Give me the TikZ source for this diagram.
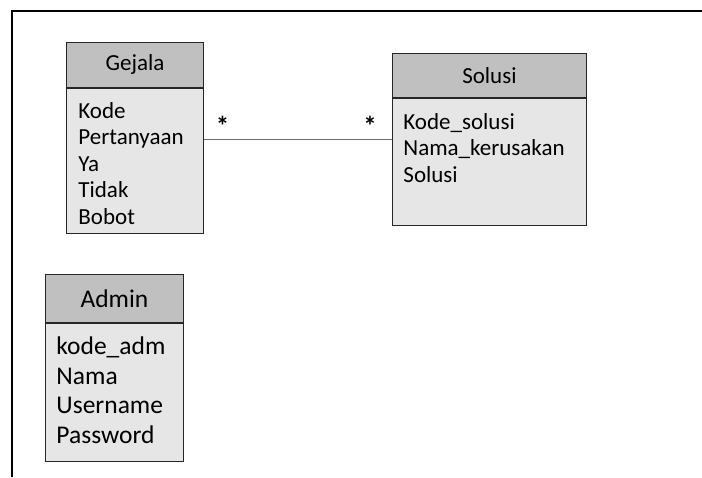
\documentclass[tikz,border=0pt]{standalone}
\usepackage{fontspec}
\setmainfont{Carlito}
\usepackage{tikz}
\usetikzlibrary{positioning,calc}
\definecolor{clsborder}{HTML}{262626}
\definecolor{clshead}{HTML}{C0C0C0}
\definecolor{clsbody}{HTML}{E6E6E6}
\definecolor{clsline}{HTML}{6E6E6E}
\tikzset{
  classhead/.style={
    draw=clsborder, fill=clshead, line width=0.9pt,
    minimum width=#1, minimum height=45pt,
    align=center, inner sep=0pt,
    font=\fontsize{23}{26.5}\selectfont
  },
  classattr/.style={
    draw=clsborder, fill=clsbody, line width=0.9pt,
    minimum width=#1, text width=#1-24pt,
    align=left, inner xsep=12pt, inner ysep=0pt,
    text height=30pt,
    font=\fontsize{23}{26.5}\selectfont
  },
  assocline/.style={draw=clsline, line width=0.9pt},
  multlabel/.style={font=\fontsize{27}{27}\bfseries, inner sep=0pt}
}
\begin{document}
\begin{tikzpicture}[x=1pt, y=-1pt]
  \useasboundingbox (0,0) rectangle (702,477);
  \draw[line width=2.8pt] (12,477) -- (12,11) -- (702,11);

  % Gejala
  \node[classhead=137pt, anchor=north west] (gejalahead) at (66,42) {Gejala};
  \node[classattr=137pt, text depth=115pt, anchor=north west]
    (gejalaattr) at (gejalahead.south west)
    {Kode\\Pertanyaan\\Ya\\Tidak\\Bobot};

  % Solusi
  \node[classhead=194pt, minimum height=44pt, anchor=north west]
    (solusihead) at (392,53) {Solusi};
  \node[classattr=194pt, text height=31pt, text depth=96pt,
        inner xsep=11pt, text width=172pt, anchor=north west]
    (solusiattr) at (solusihead.south west)
    {Kode\_solusi\\Nama\_kerusakan\\Solusi};

  % Admin
  \node[classhead=138pt, minimum height=48pt, anchor=north west,
        font=\fontsize{25.5}{29.7}\selectfont]
    (adminhead) at (45,274) {Admin};
  \node[classattr=138pt, text height=31pt, text depth=107pt,
        inner xsep=11pt, text width=116pt, anchor=north west,
        font=\fontsize{25.5}{29.7}\selectfont]
    (adminattr) at (adminhead.south west)
    {kode\_adm\\Nama\\Username\\Password};

  % relasi
  \coordinate (relstart) at ([yshift=-52pt]gejalaattr.north east);
  \draw[assocline] (relstart) -- (relstart -| solusiattr.west)
    node[multlabel, pos=0.1, above=4pt] {*}
    node[multlabel, pos=0.884, above=4pt] {*};
\end{tikzpicture}
\end{document}
